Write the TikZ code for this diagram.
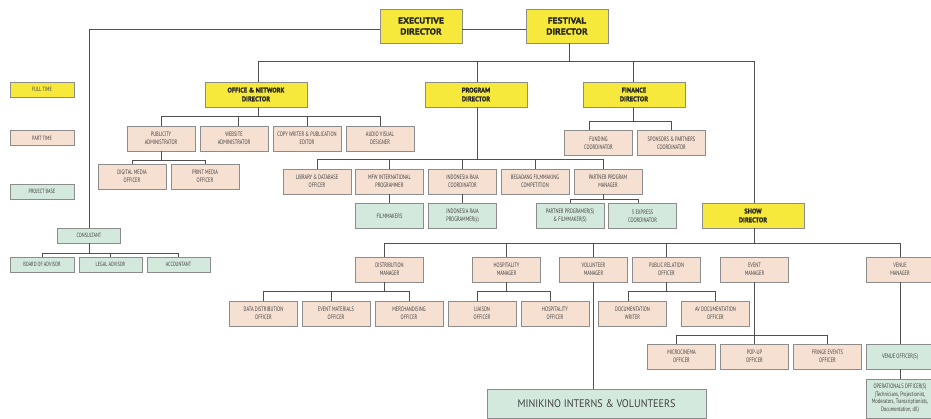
\documentclass[tikz,border=0pt]{standalone}
\usepackage{fontspec}
\setmainfont{PT Sans}[FakeStretch=0.7]
\newfontfamily\dirfont{PT Sans}[FakeStretch=0.95, BoldFeatures={FakeBold=1.2}]
\newfontfamily\topfont{PT Sans}[FakeStretch=1.1, BoldFeatures={FakeBold=1.2}]
\newfontfamily\minifont{PT Sans}[FakeStretch=0.92]
\definecolor{yel}{HTML}{F6E93C}
\definecolor{peach}{HTML}{F6E0D2}
\definecolor{mint}{HTML}{D4E9DD}
\definecolor{boxc}{HTML}{8C8C8C}
\definecolor{linec}{HTML}{505050}
\definecolor{txtc}{HTML}{404040}
\newcommand\bxf{\fontsize{6.4}{8}\selectfont}
\newcommand\lgf{\fontsize{6.1}{7}\selectfont}
\newcommand\dsf{\dirfont\bfseries\fontsize{6.8}{8.8}\selectfont}
\newcommand\dbf{\topfont\bfseries\fontsize{8.6}{11}\selectfont}
\tikzset{
  base/.style={draw=boxc, line width=0.8pt, inner sep=0pt, align=center, text=txtc, font=\bxf},
  ptbox/.style={base, fill=peach, minimum width=68pt, minimum height=25pt},
  pbbox/.style={base, fill=mint, minimum width=68pt, minimum height=25pt},
  ftbox/.style={base, fill=yel, minimum width=102pt, minimum height=25pt, font=\dsf, text=black!85},
  topbox/.style={ftbox, minimum width=82pt, minimum height=34pt, font=\dbf},
  legbox/.style={base, minimum width=64pt, minimum height=15pt, font=\lgf},
  conn/.style={draw=linec, line width=0.9pt}
}
\begin{document}
\begin{tikzpicture}[x=1pt,y=-1pt]
\useasboundingbox (0,0) rectangle (931,419);
\clip (0,0) rectangle (931,419);
\fill[white] (0,0) rectangle (931,419);

% ---------- legend ----------
\node[legbox, fill=yel] (fulltime) at (42,89.5) {FULL TIME};
\node[legbox, fill=peach] (parttime) at (42,138) {PART TIME};
\node[legbox, fill=mint] (projbase) at (42,191.5) {PROJECT BASE};

% ---------- top ----------
\node[topbox] (exec) at (421,26) {EXECUTIVE\\DIRECTOR};
\node[topbox] (fest) at (567,26) {FESTIVAL\\DIRECTOR};

\node[ftbox] (office) at (256,94.5) {OFFICE \& NETWORK\\DIRECTOR};
\node[ftbox] (program) at (476,94.5) {PROGRAM\\DIRECTOR};
\node[ftbox] (finance) at (634,94.5) {FINANCE\\DIRECTOR};
\node[ftbox] (show) at (753,215.5) {SHOW\\DIRECTOR};

% ---------- consultant ----------
\node[legbox, fill=mint, minimum width=63pt] (consultant) at (89,235.5) {CONSULTANT};
\node[legbox, fill=mint] (board) at (42,264.5) {BOARD OF ADVISOR};
\node[legbox, fill=mint, minimum width=63pt] (legal) at (110.5,264.5) {LEGAL ADVISOR};
\node[legbox, fill=mint, minimum width=63pt] (account) at (178.5,264.5) {ACCOUNTANT};

% ---------- office & network ----------
\node[ptbox] (pubadm) at (161,138.5) {PUBLICITY\\ADMINISTRATOR};
\node[ptbox] (webadm) at (234,138.5) {WEBSITE\\ADMINISTRATOR};
\node[ptbox] (copyw) at (307,138.5) {COPY WRITER \& PUBLICATION\\EDITOR};
\node[ptbox] (audvis) at (380,138.5) {AUDIO VISUAL\\DESIGNER};
\node[ptbox] (digital) at (132,176.5) {DIGITAL MEDIA\\OFFICER};
\node[ptbox] (printm) at (205,176.5) {PRINT MEDIA\\OFFICER};

% ---------- finance ----------
\node[ptbox] (funding) at (598.5,143) {FUNDING\\COORDINATOR};
\node[ptbox] (sponsors) at (671.5,143) {SPONSORS \& PARTNERS\\COORDINATOR};

% ---------- program ----------
\node[ptbox] (library) at (317,181.5) {LIBRARY \& DATABASE\\OFFICER};
\node[ptbox] (mfw) at (389.5,181.5) {MFW INTERNATIONAL\\PROGRAMMER};
\node[ptbox] (irc) at (462.5,181.5) {INDONESIA RAJA\\COORDINATOR};
\node[ptbox] (begadang) at (535,181.5) {BEGADANG FILMMAKING\\COMPETITION};
\node[ptbox] (ppm) at (608,181.5) {PARTNER PROGRAM\\MANAGER};
\node[pbbox] (filmmakers) at (389.5,216) {FILMMAKERS};
\node[pbbox] (irp) at (462.5,216) {INDONESIA RAJA\\PROGRAMMER(s)};
\node[pbbox] (partprog) at (570,216) {PARTNER PROGRAMER(S)\\\& FILMMAKER(S)};
\node[pbbox] (fiveexp) at (642.5,216) {5 EXPRESS\\COORDINATOR};

% ---------- show ----------
\node[ptbox] (distmgr) at (389.5,269.5) {DISTRIBUTION\\MANAGER};
\node[ptbox] (hospmgr) at (506.5,269.5) {HOSPITALITY\\MANAGER};
\node[ptbox] (volmgr) at (593.5,269.5) {VOLUNTEER\\MANAGER};
\node[ptbox] (promgr) at (666.5,269.5) {PUBLIC RELATION\\OFFICER};
\node[ptbox] (eventmgr) at (754.5,269.5) {EVENT\\MANAGER};
\node[ptbox] (venuemgr) at (900,269.5) {VENUE\\MANAGER};

\node[ptbox] (datadist) at (263.5,313.5) {DATA DISTRIBUTION\\OFFICER};
\node[ptbox] (evmat) at (336,313.5) {EVENT MATERIALS\\OFFICER};
\node[ptbox] (merch) at (409,313.5) {MERCHANDISING\\OFFICER};
\node[ptbox] (liaison) at (482,313.5) {LIAISON\\OFFICER};
\node[ptbox] (hospoff) at (555,313.5) {HOSPITALITY\\OFFICER};
\node[ptbox] (docw) at (632.5,313.5) {DOCUMENTATION\\WRITER};
\node[ptbox] (avdoc) at (715.5,313.5) {AV DOCUMENTATION\\OFFICER};

\node[ptbox] (micro) at (681.5,356.5) {MICROCINEMA\\OFFICER};
\node[ptbox] (popup) at (754.5,356.5) {POP-UP\\OFFICER};
\node[ptbox] (fringe) at (827.5,356.5) {FRINGE EVENTS\\OFFICER};
\node[pbbox] (venueoff) at (900,356.5) {VENUE OFFICER(S)};
\node[pbbox, minimum height=39pt, font=\fontsize{6.4}{7.6}\selectfont] (operational) at (900,398.5)
  {OPERATIONALS OFFICER(S)\\(Technicians, Projectionist,\\Moderators, Transcriptionists,\\Documentation, dll)};

\node[pbbox, minimum width=219pt, minimum height=29pt, font=\minifont\fontsize{11}{13}\selectfont] (mini) at (596.5,403.5)
  {MINIKINO INTERNS \& VOLUNTEERS};

% ---------- connectors ----------
\begin{scope}[conn]
% top
\draw ([yshift=-3pt]exec.west) -| (consultant.north);
\draw ([yshift=-3pt]exec.east) -- ([yshift=-3pt]fest.west);
\draw ([xshift=2pt]fest.south) -- ++(0,19);
\draw ([xshift=2pt]office.north) -- ++(0,-20) -| ([xshift=1pt]show.north);
\draw ([xshift=1pt]program.north) -- ++(0,-20);
\draw ([xshift=-1pt]finance.north) -- ++(0,-20);
% consultant
\draw (consultant.south) -- ++(0,10) -| (board.north);
\draw (consultant.south) -- ++(0,10) -| (legal.north);
\draw (consultant.south) -- ++(0,10) -| (account.north);
% office
\draw ([xshift=2pt]office.south) -- ++(0,9) -| (pubadm.north);
\draw ([xshift=2pt]office.south) -- ++(0,9) -| ([xshift=4pt]webadm.north);
\draw ([xshift=2pt]office.south) -- ++(0,9) -| (copyw.north);
\draw ([xshift=2pt]office.south) -- ++(0,9) -| (audvis.north);
\draw (pubadm.south) -- ++(0,9) -| (digital.north);
\draw (pubadm.south) -- ++(0,9) -| (printm.north);
% finance
\draw ([xshift=-1pt]finance.south) -- ++(0,14) -| ([xshift=-9pt]funding.north);
\draw ([xshift=-1pt]finance.south) -- ++(0,14) -| (sponsors.north);
% program
\draw ([xshift=1pt]program.south) -- ++(0,52) -| (library.north);
\draw ([xshift=1pt]program.south) -- ++(0,52) -| (mfw.north);
\draw ([xshift=1pt]program.south) -- ++(0,52) -| (irc.north);
\draw ([xshift=1pt]program.south) -- ++(0,52) -| (begadang.north);
\draw ([xshift=1pt]program.south) -- ++(0,52) -| ([xshift=-5pt]ppm.north);
\draw (mfw.south) -- (filmmakers.north);
\draw (irc.south) -- (irp.north);
\draw ([xshift=-5pt]ppm.south) -- ++(0,5) -| (partprog.north);
\draw ([xshift=-5pt]ppm.south) -- ++(0,5) -| ([xshift=-4pt]fiveexp.north);
% show
\draw ([xshift=1pt]show.south) -- ++(0,15) -| ([xshift=-5pt]distmgr.north);
\draw ([xshift=1pt]show.south) -- ++(0,15) -| (hospmgr.north);
\draw ([xshift=1pt]show.south) -- ++(0,15) -| (volmgr.north);
\draw ([xshift=1pt]show.south) -- ++(0,15) -| (promgr.north);
\draw ([xshift=1pt]show.south) -- ++(0,15) -| (venuemgr.north);
\draw ([xshift=-5pt]distmgr.south) -- ++(0,9) -| (datadist.north);
\draw ([xshift=-5pt]distmgr.south) -- ++(0,9) -| ([xshift=-5pt]evmat.north);
\draw ([xshift=-5pt]distmgr.south) -- ++(0,9) -| (merch.north);
\draw (hospmgr.south) -- ++(0,9) -| ([xshift=-5pt]liaison.north);
\draw (hospmgr.south) -- ++(0,9) -| ([xshift=-5pt]hospoff.north);
\draw (promgr.south) -- ++(0,9) -| ([xshift=-4pt]docw.north);
\draw (promgr.south) -- ++(0,9) -| (avdoc.north);
\draw (eventmgr.south) -- ++(0,53) -| ([xshift=-5pt]micro.north);
\draw (eventmgr.south) -- ++(0,53) -| (popup.north);
\draw (eventmgr.south) -- ++(0,53) -| (fringe.north);
\draw (volmgr.south) -- (volmgr.south |- mini.north);
\draw (venuemgr.south) -- (venueoff.north);
\draw (venueoff.south) -- (operational.north);
\end{scope}
\end{tikzpicture}
\end{document}
